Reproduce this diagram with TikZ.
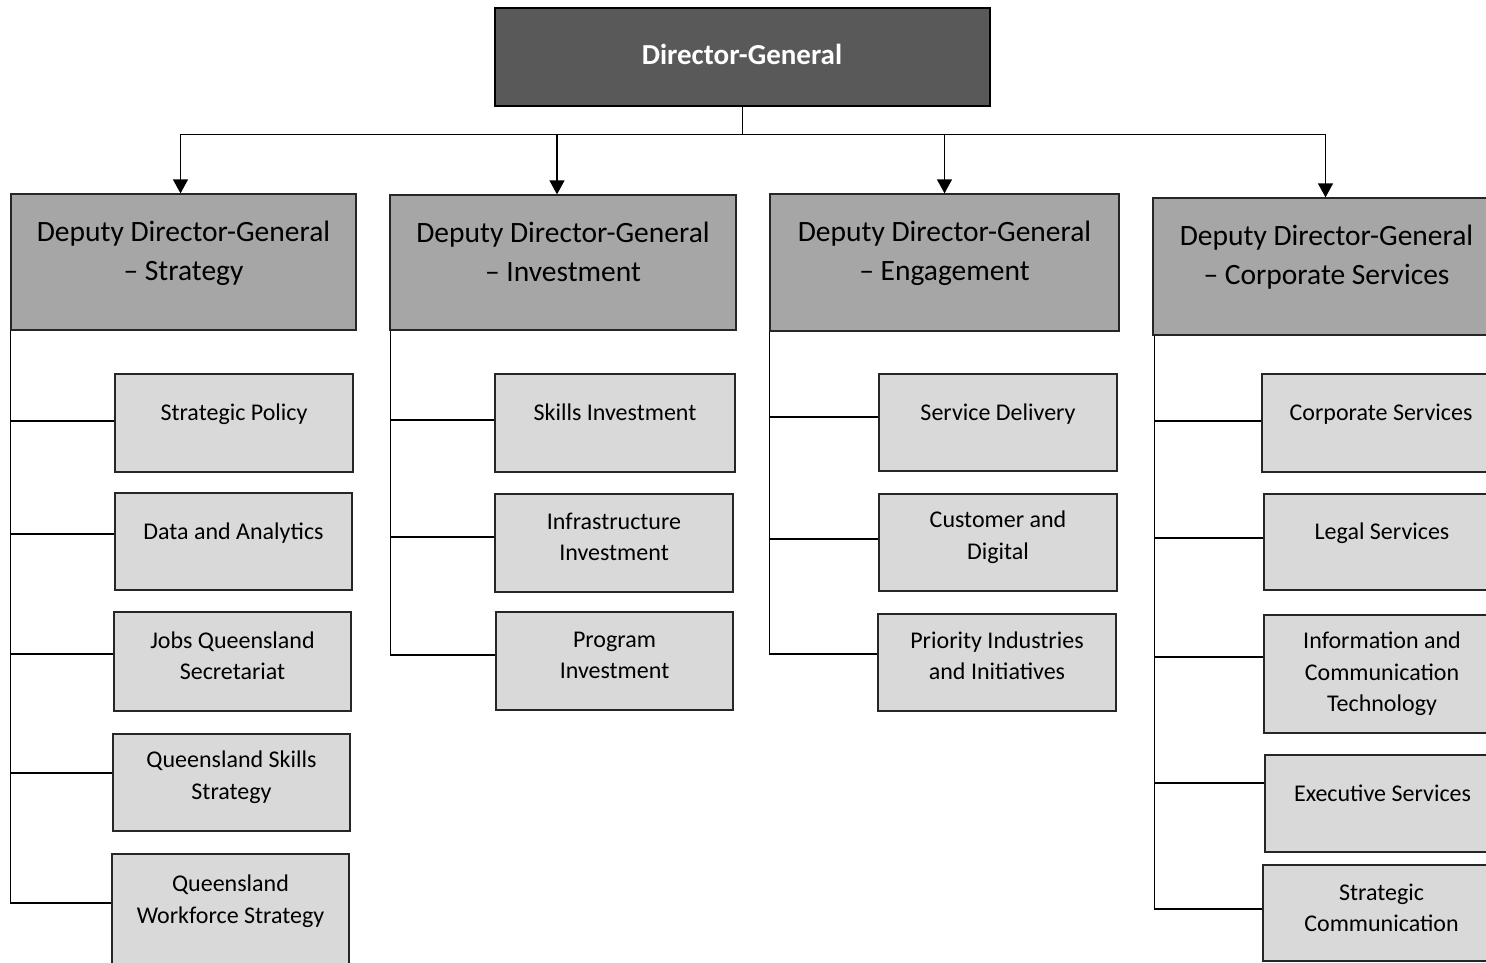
\documentclass[tikz,border=0pt]{standalone}
\usepackage{fontspec}
\setmainfont{Carlito}
\usetikzlibrary{arrows.meta}
\definecolor{dgfill}{HTML}{595959}
\definecolor{ddgfill}{HTML}{A6A6A6}
\definecolor{chfill}{HTML}{D9D9D9}
\tikzset{
  dgbox/.style={draw=black, line width=2.5pt, fill=dgfill, inner sep=0pt},
  ddgbox/.style={draw=black!85, line width=1.3pt, fill=ddgfill, inner sep=0pt},
  chbox/.style={draw=black!85, line width=1.3pt, fill=chfill, inner sep=0pt},
  dgtxt/.style={text=white, font=\fontsize{29}{34}\selectfont\bfseries, align=center, inner sep=0pt},
  ddgtxt/.style={font=\fontsize{29.5}{39}\selectfont, align=center, inner sep=0pt},
  chtxt/.style={font=\fontsize{24}{31.5}\selectfont, align=center, inner sep=0pt},
  conn/.style={draw=black, line width=1.3pt},
  arr/.style={conn, -{Triangle[width=15pt,length=14pt]}},
}
\begin{document}
\begin{tikzpicture}[x=1pt,y=-1pt]
\clip (0,0) rectangle (1486,963);
\fill[white] (0,0) rectangle (1486,963);

% Director-General
\node[dgbox, minimum width=495, minimum height=98] (dg) at (742.5,57) {};
\node[dgtxt] (dgt) at (742,54) {Director-General};

% Deputy Directors-General
\node[ddgbox, minimum width=345, minimum height=136] (ds) at (183.5,262) {};
\node[ddgtxt] (dst) at (183.5,253) {Deputy Director-General\\– Strategy};
\node[ddgbox, minimum width=346, minimum height=135] (di) at (563,262.5) {};
\node[ddgtxt] (dit) at (563,252) {Deputy Director-General\\– Investment};
\node[ddgbox, minimum width=349, minimum height=137] (de) at (944.5,262.5) {};
\node[ddgtxt] (det) at (944.5,253) {Deputy Director-General\\– Engagement};
\node[ddgbox, minimum width=347, minimum height=137] (dc) at (1326.5,266.5) {};
\node[ddgtxt] (dct) at (1326.5,257) {Deputy Director-General\\– Corporate Services};

% Column 1
\node[chbox, minimum width=238, minimum height=98] (sp) at (234,423) {};
\node[chtxt] (spt) at (234,414) {Strategic Policy};
\node[chbox, minimum width=237, minimum height=97] (da) at (233.5,541.5) {};
\node[chtxt] (dat) at (233.5,533) {Data and Analytics};
\node[chbox, minimum width=237, minimum height=99] (jq) at (232.5,661.5) {};
\node[chtxt] (jqt) at (232.5,656) {Jobs Queensland\\Secretariat};
\node[chbox, minimum width=237, minimum height=97] (qs) at (231.5,782.5) {};
\node[chtxt] (qst) at (231.5,777) {Queensland Skills\\Strategy};
\node[chbox, minimum width=237, minimum height=121] (qw) at (230.5,914.5) {};
\node[chtxt] (qwt) at (230.5,901) {Queensland\\Workforce Strategy};

% Column 2
\node[chbox, minimum width=240, minimum height=98] (si) at (615,423) {};
\node[chtxt] (sit) at (615,412) {Skills Investment};
\node[chbox, minimum width=238, minimum height=98] (ii) at (614,543) {};
\node[chtxt] (iit) at (614,537) {Infrastructure\\Investment};
\node[chbox, minimum width=237, minimum height=98] (pi) at (614.5,661) {};
\node[chtxt] (pit) at (614.5,655.5) {Program\\Investment};

% Column 3
\node[chbox, minimum width=238, minimum height=97] (sd) at (998,422.5) {};
\node[chtxt] (sdt) at (998,414) {Service Delivery};
\node[chbox, minimum width=238, minimum height=97] (cd) at (998,542.5) {};
\node[chtxt] (cdt) at (998,537) {Customer and\\Digital};
\node[chbox, minimum width=238, minimum height=97] (pr) at (997,662.5) {};
\node[chtxt] (prt) at (997,656) {Priority Industries\\and Initiatives};

% Column 4
\node[chbox, minimum width=238, minimum height=98] (cs) at (1381,423) {};
\node[chtxt] (cst) at (1381,414) {Corporate Services};
\node[chbox, minimum width=236, minimum height=96] (ls) at (1382,542) {};
\node[chtxt] (lst) at (1382,533) {Legal Services};
\node[chbox, minimum width=236, minimum height=118] (ict) at (1382,674) {};
\node[chtxt] (ictt) at (1382,674) {Information and\\Communication\\Technology};
\node[chbox, minimum width=235, minimum height=97] (es) at (1382.5,803.5) {};
\node[chtxt] (est) at (1382.5,793) {Executive Services};
\node[chbox, minimum width=237, minimum height=96] (sc) at (1381.5,913) {};
\node[chtxt] (sct) at (1381.5,908) {Strategic\\Communication};

% Top connectors
\coordinate (j) at ([yshift=-27pt]dg.south);
\draw[conn] (dg.south) -- (j);
\draw[arr] (j) -| ([xshift=-3pt]ds.north);
\draw[arr] (j) -| ([xshift=-6pt]di.north);
\draw[arr] (j) -| (de.north);
\draw[arr] (j) -| ([xshift=-1pt]dc.north);

% Column 1 connectors
\draw[conn] (ds.south west) |- ([yshift=2pt]sp.west);
\draw[conn] (ds.south west) |- ([yshift=7.5pt]da.west);
\draw[conn] (ds.south west) |- ([yshift=7.5pt]jq.west);
\draw[conn] (ds.south west) |- ([yshift=9.5pt]qs.west);
\draw[conn] (ds.south west) |- ([yshift=11.5pt]qw.west);

% Column 2 connectors
\draw[conn] ([xshift=1pt]di.south west) |- ([yshift=3pt]si.west);
\draw[conn] ([xshift=1pt]di.south west) |- ([yshift=6pt]ii.west);
\draw[conn] ([xshift=1pt]di.south west) |- ([yshift=6pt]pi.west);

% Column 3 connectors
\draw[conn] (de.south west) |- ([yshift=5.5pt]sd.west);
\draw[conn] (de.south west) |- ([yshift=3.5pt]cd.west);
\draw[conn] (de.south west) |- ([yshift=8.5pt]pr.west);

% Column 4 connectors
\draw[conn] ([xshift=2pt]dc.south west) |- ([yshift=2pt]cs.west);
\draw[conn] ([xshift=2pt]dc.south west) |- ([yshift=4pt]ls.west);
\draw[conn] ([xshift=2pt]dc.south west) |- ([yshift=17pt]ict.west);
\draw[conn] ([xshift=2pt]dc.south west) |- ([yshift=20.5pt]es.west);
\draw[conn] ([xshift=2pt]dc.south west) |- ([yshift=4pt]sc.west);
\end{tikzpicture}
\end{document}
